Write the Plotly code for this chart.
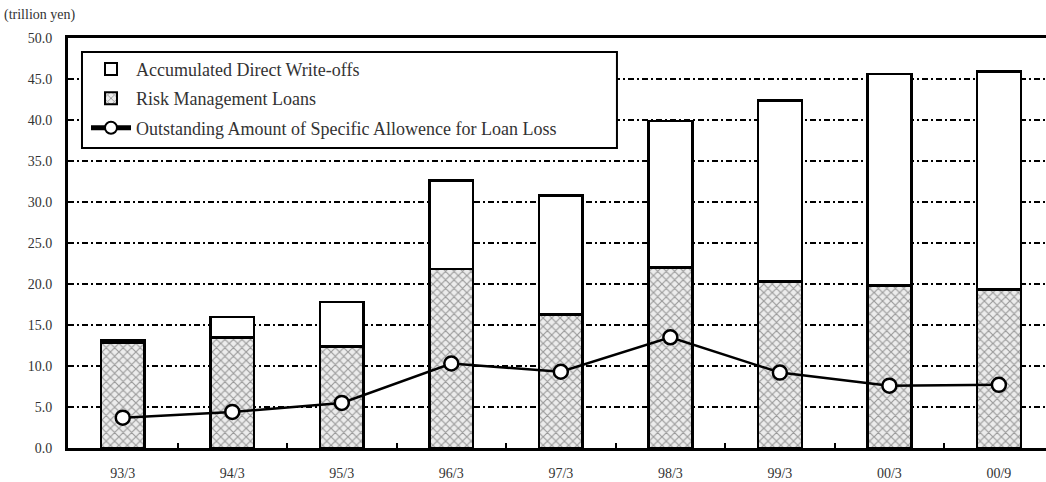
import plotly.graph_objects as go

# Fiscal period labels (year/month)
periods = ["93/3", "94/3", "95/3", "96/3", "97/3", "98/3", "99/3", "00/3", "00/9"]

# trillion yen
risk_management_loans = [12.8, 13.5, 12.4, 21.8, 16.3, 22.0, 20.3, 19.8, 19.3]
accumulated_write_offs = [0.3, 2.5, 5.4, 10.8, 14.5, 17.9, 22.1, 25.8, 26.6]
specific_allowance = [3.7, 4.4, 5.5, 10.3, 9.3, 13.5, 9.2, 7.6, 7.7]

y_ticks = [0, 5, 10, 15, 20, 25, 30, 35, 40, 45, 50]

FONT = "Liberation Serif, Times New Roman, serif"
TEXT_COLOR = "#333"

fig = go.Figure()

fig.add_trace(go.Bar(
    x=periods, y=risk_management_loans, name="Risk Management Loans",
    width=0.4, legendrank=2, legendgroup="b",
    marker=dict(
        color="#e6e6e6",
        line=dict(color="black", width=2.5),
        pattern=dict(shape="x", fgcolor="#9a9a9a", bgcolor="#ececec",
                     size=6, solidity=0.35, fillmode="replace"),
    ),
))

fig.add_trace(go.Bar(
    x=periods, y=accumulated_write_offs, name="Accumulated Direct Write-offs",
    width=0.4, legendrank=1, legendgroup="a",
    marker=dict(color="white", line=dict(color="black", width=2.5)),
))

fig.add_trace(go.Scatter(
    x=periods, y=specific_allowance, mode="lines+markers",
    legendrank=3, legendgroup="c",
    name="Outstanding Amount of Specific Allowence for Loan Loss",
    line=dict(color="black", width=2.5),
    marker=dict(symbol="circle", size=14, color="white",
                line=dict(color="black", width=2.5)),
))

fig.update_layout(
    width=1046, height=482,
    margin=dict(l=68, r=0, t=38, b=34),
    paper_bgcolor="white", plot_bgcolor="white",
    barmode="stack",
    font=dict(family=FONT, size=14, color=TEXT_COLOR),
    showlegend=True,
    legend=dict(
        x=0.0184, y=0.969, xanchor="left", yanchor="top",
        bgcolor="rgba(0,0,0,0)", borderwidth=0,
        font=dict(family=FONT, size=18, color=TEXT_COLOR),
        traceorder="grouped", tracegroupgap=3,
        itemsizing="constant", itemwidth=40,
    ),
    # framed white panel behind the legend entries
    shapes=[dict(
        type="rect", xref="paper", yref="paper",
        x0=0.0143, x1=0.5613, y0=0.7317, y1=0.9659,
        line=dict(color="black", width=2), fillcolor="white", layer="above",
    )],
    annotations=[dict(
        text="(trillion yen)", xref="paper", yref="paper",
        x=-0.0675, y=1.056, xanchor="left", yanchor="middle",
        showarrow=False, font=dict(family=FONT, size=14, color=TEXT_COLOR),
    )],
)

fig.update_xaxes(
    type="category", range=[-0.5, 8.43],
    showline=True, linecolor="black", linewidth=2.5, mirror=True,
    ticks="inside", tickson="boundaries", ticklen=5, tickwidth=2,
    tickcolor="black", showgrid=False, ticklabelstandoff=10,
    tickfont=dict(family=FONT, size=14, color=TEXT_COLOR),
)

fig.update_yaxes(
    range=[0, 50], tickvals=y_ticks, tickformat=".1f",
    showline=True, linecolor="black", linewidth=3,
    ticks="inside", ticklen=6, tickwidth=2, tickcolor="black",
    showgrid=True, gridcolor="black", gridwidth=1.5,
    griddash="6px,3px,2px,3px", zeroline=False, ticklabelstandoff=10,
    tickfont=dict(family=FONT, size=14, color=TEXT_COLOR),
)

fig.write_html("out.html")
